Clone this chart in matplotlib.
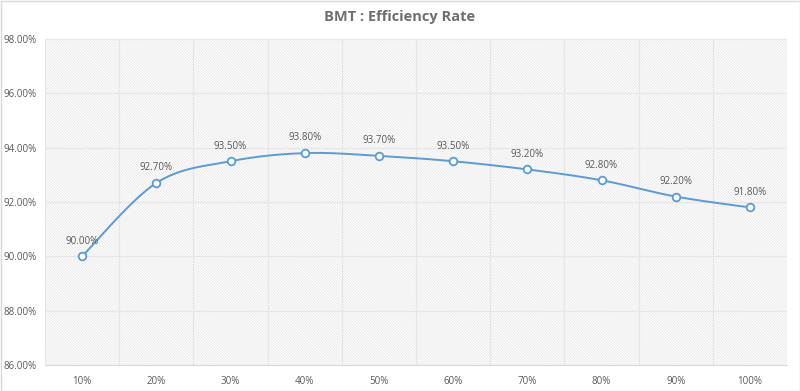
import numpy as np
import matplotlib.pyplot as plt
from matplotlib.patches import Rectangle

# data
loads = ["10%", "20%", "30%", "40%", "50%", "60%", "70%", "80%", "90%", "100%"]
efficiency = [90.00, 92.70, 93.50, 93.80, 93.70, 93.50, 93.20, 92.80, 92.20, 91.80]
yticks = [86, 88, 90, 92, 94, 96, 98]

plt.rcParams['font.family'] = ['Open Sans', 'DejaVu Sans']
plt.rcParams['hatch.color'] = '#e2e2e2'
plt.rcParams['hatch.linewidth'] = 0.5

LINE = '#5b9bd5'
TXT = '#595959'


def smooth(x, y, n=30):
    # excel-ish smoothing: cardinal spline through the points
    x = np.asarray(x, float)
    y = np.asarray(y, float)
    px = np.concatenate([[x[0]], x, [x[-1]]])
    py = np.concatenate([[y[0]], y, [y[-1]]])
    xs, ys = [], []
    t = np.linspace(0, 1, n)
    for i in range(1, len(px) - 2):
        p0, p1, p2, p3 = (np.array([px[j], py[j]]) for j in (i - 1, i, i + 1, i + 2))
        c1 = p1 + (p2 - p0) / 6
        c2 = p2 - (p3 - p1) / 6
        pts = ((1 - t) ** 3)[:, None] * p1 + (3 * (1 - t) ** 2 * t)[:, None] * c1 \
            + (3 * (1 - t) * t ** 2)[:, None] * c2 + (t ** 3)[:, None] * p2
        xs.extend(pts[:, 0])
        ys.extend(pts[:, 1])
    return np.array(xs), np.array(ys)


fig = plt.figure(figsize=(8, 3.91), dpi=100)
ax = fig.add_axes([45 / 800, 1 - 365 / 391, 742 / 800, 326 / 391])

x = np.arange(len(loads))
ax.set_xlim(-0.5, len(loads) - 0.5)
ax.set_ylim(86, 98)

# hatched background
ax.add_patch(Rectangle((0, 0), 1, 1, transform=ax.transAxes, facecolor='white',
                       edgecolor='#e2e2e2', hatch='\\' * 12, lw=0, zorder=0))

for yv in yticks:
    ax.axhline(yv, color='#e6e6e6', lw=0.9, zorder=1)
for xv in np.arange(-0.5, len(loads), 1):
    ax.axvline(xv, color='#e6e6e6', lw=0.9, zorder=1)

sx, sy = smooth(x, efficiency)
ax.plot(sx, sy, color=LINE, lw=1.4, zorder=3)
ax.plot(x, efficiency, 'o', ms=5.5, mfc='white', mec=LINE, mew=1.3, zorder=4)

for xi, v in zip(x, efficiency):
    ax.annotate(f"{v:.2f}%", (xi, v), xytext=(0, 7), textcoords='offset points',
                ha='center', va='bottom', fontsize=7, color=TXT, zorder=5)

ax.set_xticks(x)
ax.set_xticklabels(loads)
ax.set_yticks(yticks)
ax.set_yticklabels([f"{v:.2f}%" for v in yticks])
ax.tick_params(length=0, labelsize=7, colors=TXT)
ax.tick_params(axis='x', pad=8)
ax.tick_params(axis='y', pad=6)
for s in ax.spines.values():
    s.set_visible(False)
ax.spines['bottom'].set_visible(True)
ax.spines['bottom'].set_color('#d9d9d9')

fig.text(0.5, 1 - 17 / 391, "BMT : Efficiency Rate", ha='center', va='center',
         fontsize=10.5, fontweight='bold', color='#6f6f6f')

fig.add_artist(Rectangle((0.5 / 800, 0.5 / 391), 799 / 800, 390 / 391,
                         transform=fig.transFigure, fill=False,
                         edgecolor='#d9d9d9', lw=1))

fig.savefig('out.png', dpi=100)
